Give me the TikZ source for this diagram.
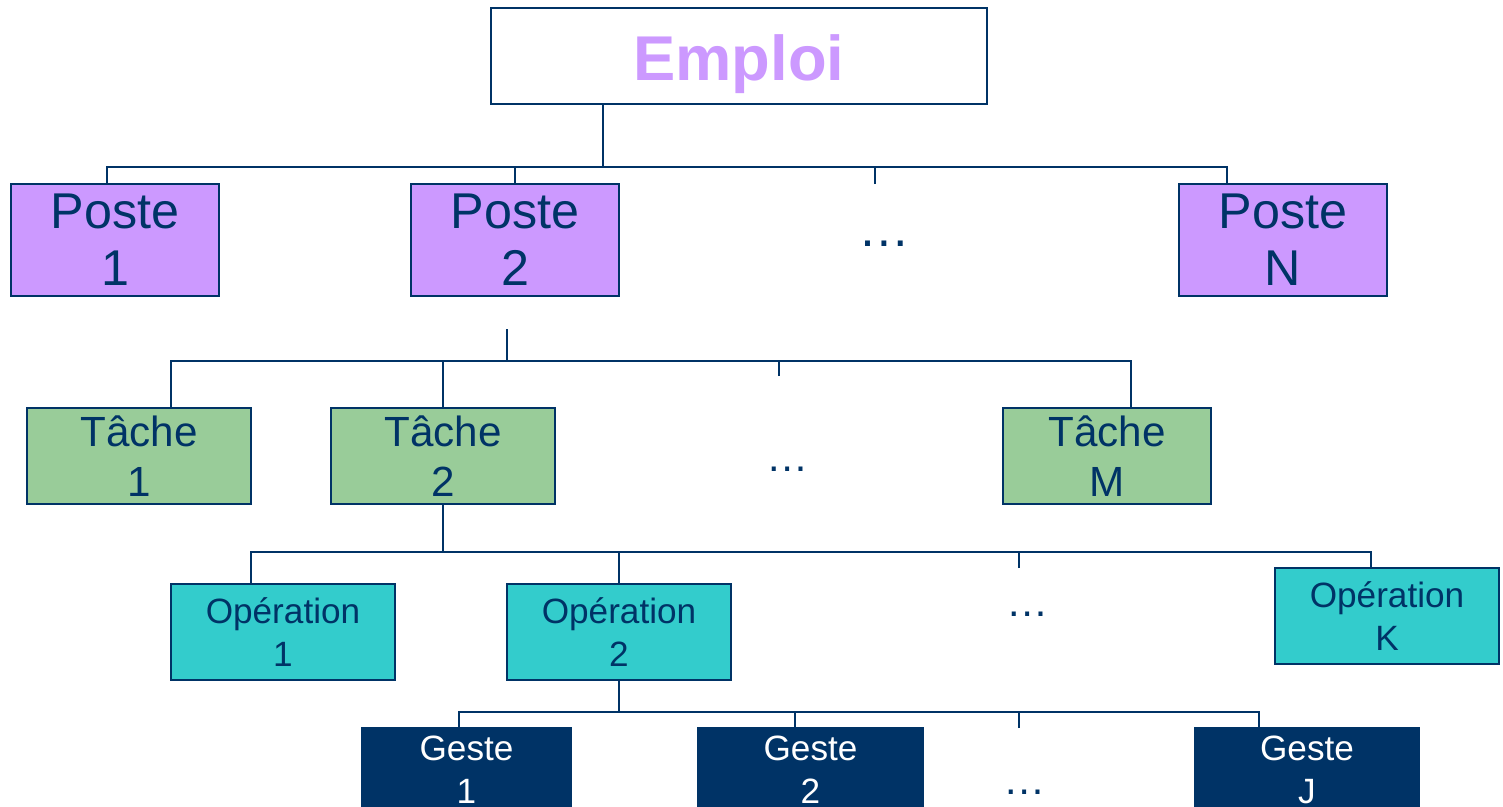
\documentclass[tikz,border=0pt]{standalone}
\usepackage{fontspec}
\setmainfont{Liberation Sans}
\definecolor{navy}{HTML}{003366}
\definecolor{lilac}{HTML}{CC99FF}
\definecolor{sage}{HTML}{99CC99}
\definecolor{teal2}{HTML}{33CCCC}
\tikzset{
  box/.style={draw=navy, line width=0.6pt, inner sep=0pt, align=center, text=navy},
  poste/.style={box, fill=lilac, minimum width=2.08cm, minimum height=1.12cm, font=\fontsize{14.3}{16.2}\selectfont},
  tache/.style={box, fill=sage, minimum width=2.24cm, minimum height=0.96cm, font=\fontsize{12}{14.2}\selectfont},
  oper/.style={box, fill=teal2, minimum width=2.24cm, minimum height=0.96cm, font=\fontsize{10}{12.2}\selectfont},
  geste/.style={box, fill=navy, text=white, minimum width=2.24cm, minimum height=0.96cm, text height=0.72cm, text depth=0.18cm, font=\fontsize{10}{12.2}\selectfont},
  dots/.style={text=navy, inner sep=0pt},
  link/.style={draw=navy, line width=0.6pt}
}
\begin{document}
\begin{tikzpicture}[x=0.01cm, y=-0.01cm]
\useasboundingbox (0,0) rectangle (1503,806);
\clip (0,0) rectangle (1503,806);
% level 0
\node[box, fill=white, minimum width=4.96cm, minimum height=0.96cm, text=lilac, text height=0.6cm, text depth=0.12cm, font=\fontsize{18}{20}\selectfont\bfseries] (emploi) at (739,56) {Emploi};
% level 1
\node[poste] (p1) at (115,240) {Poste\\1};
\node[poste] (p2) at (515,240) {Poste\\2};
\node[poste] (pn) at (1283,240) {Poste\\N};
\node[dots, font=\fontsize{14.7}{16}\selectfont] (dp) at (884,244) {\dots};
% level 2
\node[tache] (t1) at (139,456) {Tâche\\1};
\node[tache] (t2) at (443,456) {Tâche\\2};
\node[tache, minimum width=2.08cm] (tm) at (1107,456) {Tâche\\M};
\node[dots, font=\fontsize{12}{14}\selectfont] (dt) at (788,469) {\dots};
% level 3
\node[oper] (o1) at (283,632) {Opération\\1};
\node[oper] (o2) at (619,632) {Opération\\2};
\node[oper] (ok) at (1387,616) {Opération\\K};
\node[dots, font=\fontsize{12}{14}\selectfont] (do) at (1028,614) {\dots};
% level 4
\node[geste, minimum width=2.09cm] (g1) at (466.5,776) {Geste\\1};
\node[geste, minimum width=2.25cm] (g2) at (810.5,776) {Geste\\2};
\node[geste] (gj) at (1307,776) {Geste\\J};
\node[dots, font=\fontsize{12}{14}\selectfont] (dg) at (1025,792) {\dots};
% connectors level 0-1
\coordinate (a0) at (603,167);
\coordinate (al) at (107,167);
\coordinate (ar) at (1227,167);
\coordinate (as) at (875,184);
\draw[link] (emploi.south -| a0) -- (a0);
\draw[link] (p1.north -| al) -- (al) -- (ar) -- (pn.north -| ar);
\draw[link] (p2.north) -- (p2.north |- a0);
\draw[link] (as) -- (as |- a0);
% connectors level 1-2
\coordinate (b1) at (507,329);
\coordinate (b0) at (507,361);
\coordinate (bl) at (171,361);
\coordinate (br) at (1131,361);
\coordinate (bs) at (779,376);
\draw[link] (b1) -- (b0);
\draw[link] (t1.north -| bl) -- (bl) -- (br) -- (tm.north -| br);
\draw[link] (t2.north) -- (t2.north |- b0);
\draw[link] (bs) -- (bs |- b0);
% connectors level 2-3
\coordinate (c0) at (443,552);
\coordinate (cl) at (251,552);
\coordinate (cr) at (1371,552);
\coordinate (cs) at (1019,568);
\draw[link] (t2.south) -- (c0);
\draw[link] (o1.north -| cl) -- (cl) -- (cr) -- (ok.north -| cr);
\draw[link] (o2.north) -- (o2.north |- c0);
\draw[link] (cs) -- (cs |- c0);
% connectors level 3-4
\coordinate (d0) at (619,712);
\coordinate (dl) at (459,712);
\coordinate (dr) at (1259,712);
\coordinate (dm) at (795,712);
\coordinate (ds) at (1019,728);
\draw[link] (o2.south) -- (d0);
\draw[link] (g1.north -| dl) -- (dl) -- (dr) -- (gj.north -| dr);
\draw[link] (g2.north -| dm) -- (dm);
\draw[link] (ds) -- (ds |- d0);
\end{tikzpicture}
\end{document}
